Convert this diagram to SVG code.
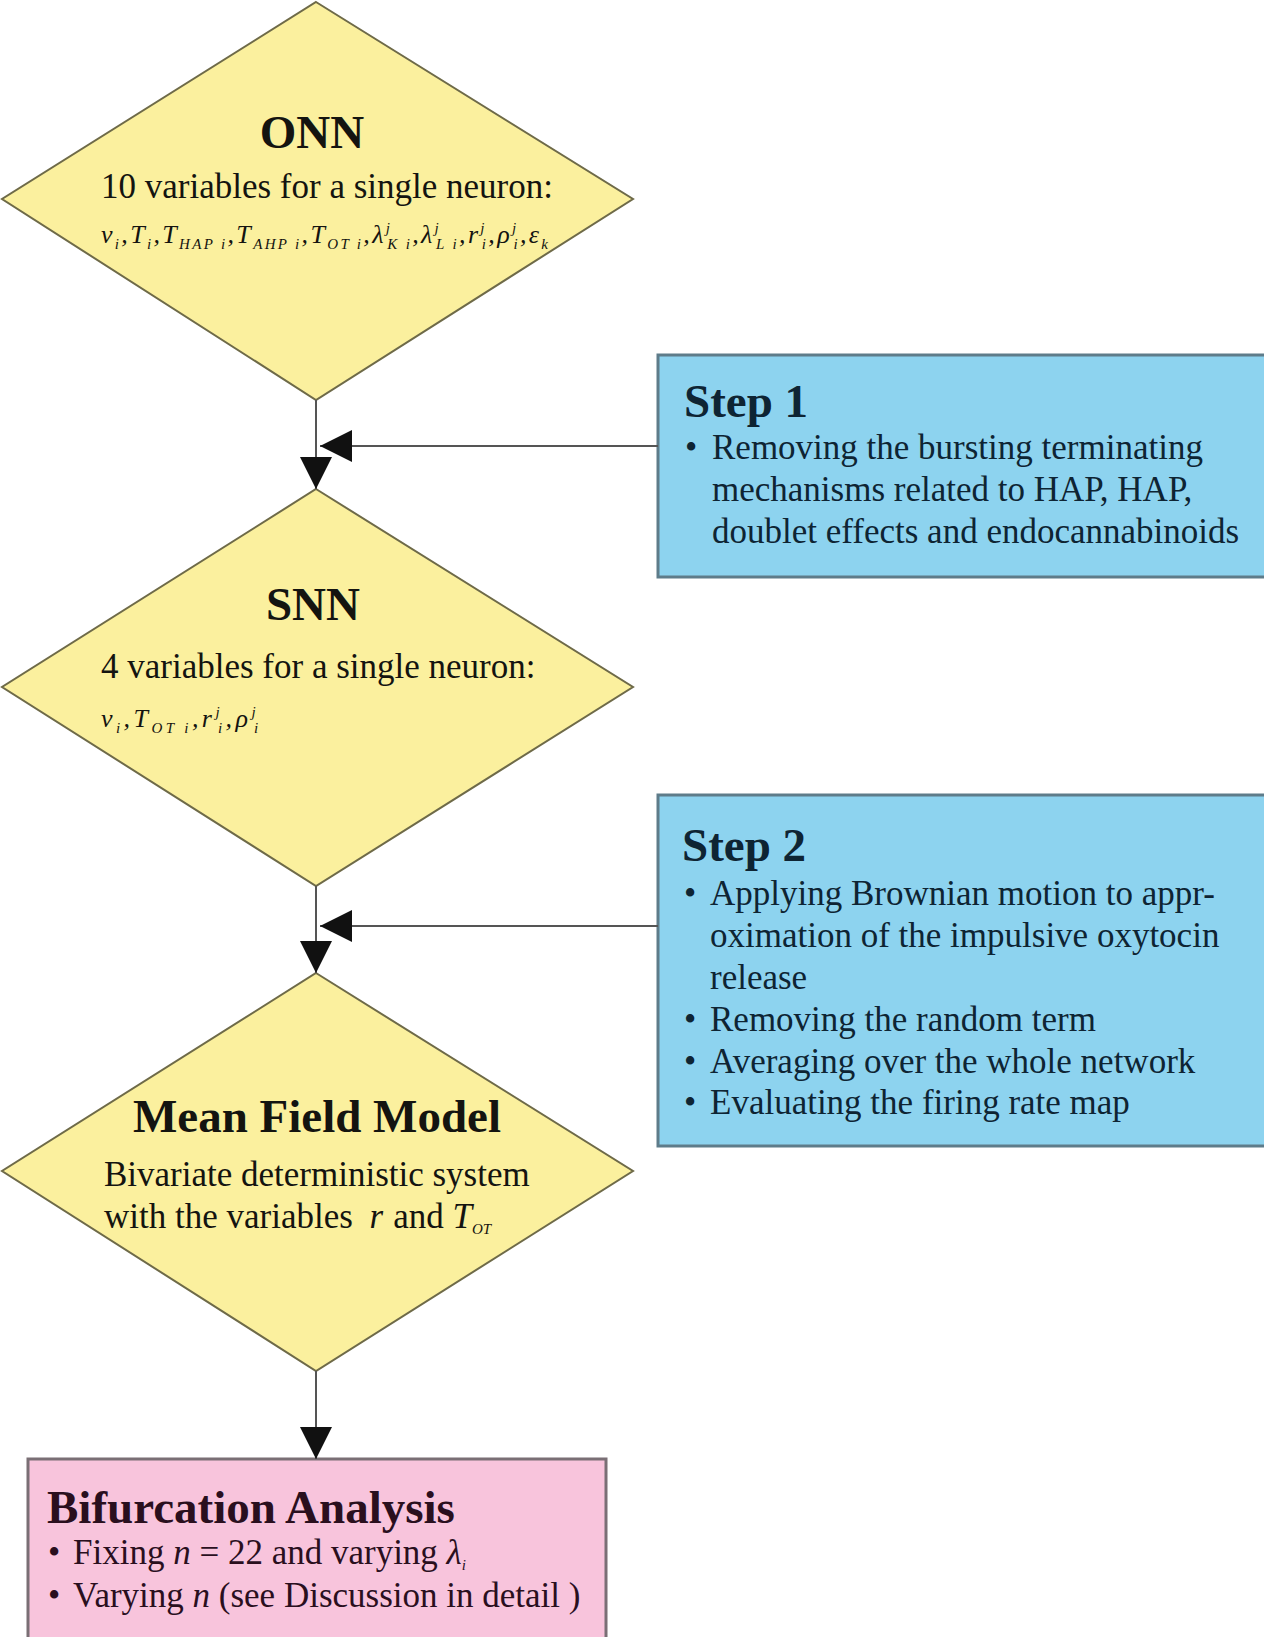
<svg xmlns="http://www.w3.org/2000/svg" width="1264" height="1637" viewBox="0 0 1264 1637">
<defs>
<style>
.dia{fill:#FBF09E;stroke:#6E6A48;stroke-width:2}
.step{fill:#8DD3EF;stroke:#5E7C8A;stroke-width:3}
.bif{fill:#F8C4DC;stroke:#7A6F75;stroke-width:3}
.ttl{font-family:"Liberation Serif","Times New Roman",serif;font-weight:bold;font-size:47px}
.txt{font-family:"Liberation Serif","Times New Roman",serif;font-size:35px}
.math{font-family:"Liberation Serif","Times New Roman",serif;font-style:italic;font-size:26px}
.sb{font-size:15px;baseline-shift:-6px}
.sp{font-size:15px;baseline-shift:10px}
.dk{fill:#141410}
.bl{fill:#0E2433}
.pk{fill:#2A0F1E}
.conn{stroke:#555;stroke-width:2;fill:none}
</style>
<marker id="ah" viewBox="0 0 32 32" refX="32" refY="16" markerWidth="32" markerHeight="32" markerUnits="userSpaceOnUse" orient="auto">
<path d="M0,0 L32,16 L0,32 Z" fill="#111"/>
</marker>
</defs>
<rect width="1264" height="1637" fill="#ffffff"/>

<g id="onn">
<polygon class="dia" points="316,2 633,199 316,400 2,199"/>
<text class="ttl dk" x="312" y="148" text-anchor="middle">ONN</text>
<text class="txt dk" x="101" y="198" font-size="33.5">10 variables for a single neuron:</text>
<text class="math dk" x="101" y="243" textLength="447" lengthAdjust="spacing">v<tspan class="sb">i</tspan>,T<tspan class="sb">i</tspan>,T<tspan class="sb">HAP i</tspan>,T<tspan class="sb">AHP i</tspan>,T<tspan class="sb">OT i</tspan>,λ<tspan class="sp">j</tspan><tspan class="sb" dx="-5">K i</tspan>,λ<tspan class="sp">j</tspan><tspan class="sb" dx="-5">L i</tspan>,r<tspan class="sp">j</tspan><tspan class="sb" dx="-5">i</tspan>,ρ<tspan class="sp">j</tspan><tspan class="sb" dx="-5">i</tspan>,ε<tspan class="sb">k</tspan></text>
</g>

<g id="step1">
<rect class="step" x="658" y="355" width="610" height="222"/>
<text class="ttl bl" x="684" y="417">Step 1</text>
<text class="txt bl" x="685" y="459">•</text>
<text class="txt bl" x="712" y="459">Removing the bursting terminating</text>
<text class="txt bl" x="712" y="501">mechanisms related to HAP, HAP,</text>
<text class="txt bl" x="712" y="543">doublet effects and endocannabinoids</text>
</g>

<g id="snn">
<polygon class="dia" points="316,489 633,687 316,886 2,687"/>
<text class="ttl dk" x="313" y="620" text-anchor="middle">SNN</text>
<text class="txt dk" x="101" y="678">4 variables for a single neuron:</text>
<text class="math dk" x="101" y="727" textLength="158" lengthAdjust="spacing">v<tspan class="sb">i</tspan>,T<tspan class="sb">OT i</tspan>,r<tspan class="sp">j</tspan><tspan class="sb" dx="-5">i</tspan>,ρ<tspan class="sp">j</tspan><tspan class="sb" dx="-5">i</tspan></text>
</g>

<g id="step2">
<rect class="step" x="658" y="795" width="610" height="351"/>
<text class="ttl bl" x="682" y="861">Step 2</text>
<text class="txt bl" x="684" y="905">•</text>
<text class="txt bl" x="710" y="905">Applying Brownian motion to appr-</text>
<text class="txt bl" x="710" y="947">oximation of the impulsive oxytocin</text>
<text class="txt bl" x="710" y="989">release</text>
<text class="txt bl" x="684" y="1031">•</text>
<text class="txt bl" x="710" y="1031">Removing the random term</text>
<text class="txt bl" x="684" y="1073">•</text>
<text class="txt bl" x="710" y="1073">Averaging over the whole network</text>
<text class="txt bl" x="684" y="1114">•</text>
<text class="txt bl" x="710" y="1114">Evaluating the firing rate map</text>
</g>

<g id="meanfield">
<polygon class="dia" points="316,973 633,1171 316,1371 2,1171"/>
<text class="ttl dk" x="317" y="1132" text-anchor="middle">Mean Field Model</text>
<text class="txt dk" x="104" y="1186">Bivariate deterministic system</text>
<text class="txt dk" x="104" y="1228">with the variables <tspan font-style="italic" dx="8">r</tspan><tspan dx="10">and </tspan><tspan font-style="italic">T</tspan><tspan class="sb" font-style="italic">OT</tspan></text>
</g>

<g id="bifurcation">
<rect class="bif" x="28" y="1459" width="578" height="190"/>
<text class="ttl pk" x="47" y="1523">Bifurcation Analysis</text>
<text class="txt pk" x="48" y="1564">•</text>
<text class="txt pk" x="73" y="1564">Fixing <tspan font-style="italic">n</tspan> = 22 and varying <tspan font-style="italic">λ</tspan><tspan class="sb" font-style="italic">i</tspan></text>
<text class="txt pk" x="48" y="1607">•</text>
<text class="txt pk" x="73" y="1607">Varying <tspan font-style="italic">n</tspan> (see Discussion in detail )</text>
</g>

<g id="connectors">
<line class="conn" x1="316" y1="400" x2="316" y2="489" marker-end="url(#ah)"/>
<line class="conn" x1="658" y1="446" x2="320" y2="446" marker-end="url(#ah)"/>
<line class="conn" x1="316" y1="886" x2="316" y2="973" marker-end="url(#ah)"/>
<line class="conn" x1="658" y1="926" x2="320" y2="926" marker-end="url(#ah)"/>
<line class="conn" x1="316" y1="1371" x2="316" y2="1459" marker-end="url(#ah)"/>
</g>
</svg>
